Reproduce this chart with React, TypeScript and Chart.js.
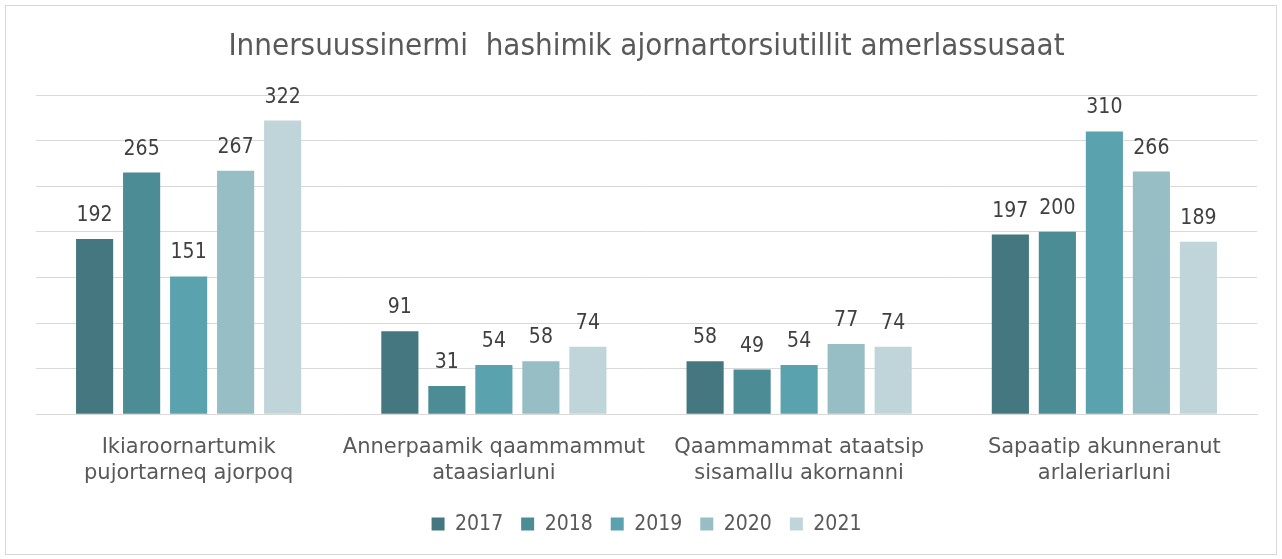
import React, { useEffect, useRef } from "react";
import { Chart, registerables } from "chart.js";

Chart.register(...registerables);

const titleText = "Innersuussinermi  hashimik ajornartorsiutillit amerlassusaat";
const categories: string[][] = [
  ["Ikiaroornartumik", "pujortarneq ajorpoq"],
  ["Annerpaamik qaammammut", "ataasiarluni"],
  ["Qaammammat ataatsip", "sisamallu akornanni"],
  ["Sapaatip akunneranut", "arlaleriarluni"],
];
const seriesNames = ["2017", "2018", "2019", "2020", "2021"];
const values2017 = [192, 91, 58, 197];
const values2018 = [265, 31, 49, 200];
const values2019 = [151, 54, 54, 310];
const values2020 = [267, 58, 77, 266];
const values2021 = [322, 74, 74, 189];
const seriesColors = ["#44777f", "#4c8c95", "#5aa2ae", "#98bec5", "#c0d5da"];

const FONT_C = "'DejaVu Sans Condensed', 'DejaVu Sans', sans-serif";
const FONT_R = "'DejaVu Sans', sans-serif";

const dataLabelPlugin = {
  id: "dataLabels",
  afterDatasetsDraw(chart: any) {
    const ctx = chart.ctx;
    ctx.save();
    ctx.font = `21px ${FONT_C}`;
    ctx.fillStyle = "#404040";
    ctx.textAlign = "center";
    ctx.textBaseline = "alphabetic";
    chart.data.datasets.forEach((ds: any, i: number) => {
      const meta = chart.getDatasetMeta(i);
      meta.data.forEach((bar: any, j: number) => {
        ctx.fillText(String(ds.data[j]), bar.x, bar.y - 18);
      });
    });
    ctx.restore();
  },
};

export default function App() {
  const ref = useRef<HTMLCanvasElement | null>(null);
  useEffect(() => {
    if (!ref.current) return;
    const allValues = [values2017, values2018, values2019, values2020, values2021];
    const chart = new Chart(ref.current, {
      type: "bar",
      data: {
        labels: categories,
        datasets: allValues.map((v, i) => ({
          label: seriesNames[i],
          data: v,
          backgroundColor: seriesColors[i],
          borderWidth: 0,
          categoryPercentage: 0.77,
          barPercentage: 0.79,
        })),
      },
      options: {
        animation: false,
        responsive: false,
        maintainAspectRatio: false,
        layout: { padding: { left: 36, right: 25, top: 0, bottom: 14.4 } },
        plugins: {
          title: {
            display: true,
            text: titleText,
            color: "#595959",
            font: { family: FONT_C, size: 31, weight: "normal", lineHeight: 1.2 },
            padding: { top: 28, bottom: 29.8 },
          },
          legend: {
            position: "bottom",
            labels: {
              color: "#595959",
              font: { family: FONT_C, size: 21 },
              boxWidth: 13,
              boxHeight: 13,
              padding: 18,
            },
          },
          tooltip: { enabled: false },
        },
        scales: {
          x: {
            grid: { display: false, drawTicks: false },
            border: { display: true, color: "#d9d9d9" },
            ticks: {
              color: "#595959",
              font: { family: FONT_R, size: 21, lineHeight: 1.25 },
              padding: 20,
              maxRotation: 0,
              autoSkip: false,
            },
            afterFit: (scale: any) => {
              scale.height = 81.4;
            },
          },
          y: {
            min: 0,
            max: 350,
            ticks: { display: false, stepSize: 50 },
            grid: { color: "#d9d9d9", drawTicks: false },
            border: { display: false },
          },
        },
      },
      plugins: [dataLabelPlugin],
    });
    return () => chart.destroy();
  }, []);
  return (
    <div style={{ position: "fixed", left: 0, top: 0, width: 1282, height: 559, background: "#fff" }}>
      <div
        style={{
          position: "absolute",
          left: 5,
          top: 5,
          width: 1270,
          height: 548,
          border: "1px solid #d9d9d9",
          pointerEvents: "none",
        }}
      />
      <canvas ref={ref} width={1282} height={559} style={{ position: "absolute", left: 0, top: 0 }} />
    </div>
  );
}
